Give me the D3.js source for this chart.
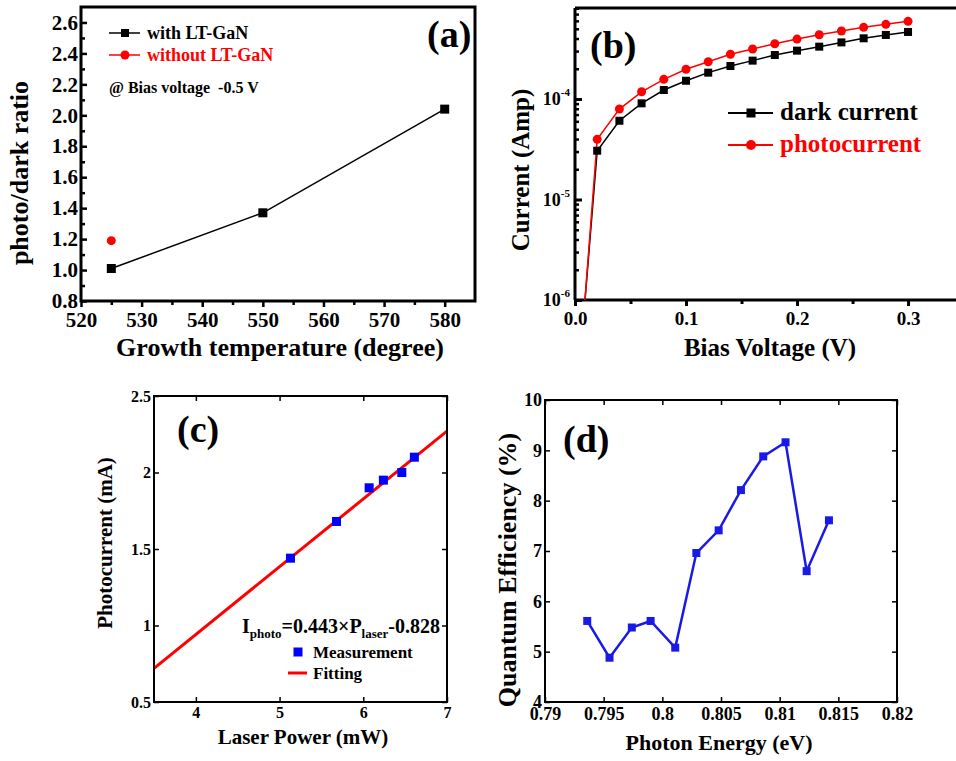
<!DOCTYPE html>
<html>
<head>
<meta charset="utf-8">
<script src="https://cdn.jsdelivr.net/npm/d3@7"></script>
<style>
  body { margin: 0; background: #fff; }
  svg text { font-family: "Liberation Serif", "Times New Roman", serif; font-weight: bold; }
  svg .tick text { font-family: "Liberation Serif", "Times New Roman", serif !important; font-weight: bold !important; }
</style>
</head>
<body>
<div class="chart"></div>
<script>
// ---- data ----

// (a) photo/dark ratio vs growth temperature
var tempWith = [525, 550, 580];
var ratioWith = [1.01, 1.37, 2.04];
var tempWithout = [525];
var ratioWithout = [1.19];
var aTicksX = [520, 530, 540, 550, 560, 570, 580];
var aMinorX = [525, 535, 545, 555, 565, 575];
var aTicksY = [0.8, 1.0, 1.2, 1.4, 1.6, 1.8, 2.0, 2.2, 2.4, 2.6];
var aMinorY = [0.9, 1.1, 1.3, 1.5, 1.7, 1.9, 2.1, 2.3, 2.5];

// (b) I-V curves (log scale)
var biasV = [0.0, 0.02, 0.04, 0.06, 0.08, 0.10, 0.12, 0.14, 0.16, 0.18, 0.20, 0.22, 0.24, 0.26, 0.28, 0.30];
var darkCurrent = [6e-8, 3.06e-5, 6.08e-5, 9.06e-5, 1.23e-4, 1.52e-4, 1.83e-4, 2.13e-4, 2.41e-4, 2.74e-4, 3.03e-4, 3.32e-4, 3.66e-4, 4.02e-4, 4.34e-4, 4.65e-4];
var photoCurrent = [5e-8, 3.97e-5, 7.95e-5, 1.18e-4, 1.57e-4, 1.98e-4, 2.35e-4, 2.79e-4, 3.15e-4, 3.55e-4, 3.95e-4, 4.36e-4, 4.75e-4, 5.17e-4, 5.54e-4, 5.93e-4];
var bTicksX = [0, 0.1, 0.2, 0.3];
var bMinorX = [0.05, 0.15, 0.25];
var bTicksY = [1e-6, 1e-5, 1e-4];
var bExpY = ["-6", "-5", "-4"];

// (c) photocurrent vs laser power
var laserPower = [5.13, 5.68, 6.07, 6.24, 6.46, 6.61];
var measCurrent = [1.44, 1.68, 1.90, 1.95, 2.00, 2.10];
var fitPower = [3.5, 7];
var fitCurrent = [0.72, 2.27];
var cTicksX = [4, 5, 6, 7];
var cTicksY = [0.5, 1, 1.5, 2, 2.5];
var cLabelsY = ["0.5", "1", "1.5", "2", "2.5"];

// (d) quantum efficiency vs photon energy
var photonEnergy = [0.7936, 0.7955, 0.7974, 0.7990, 0.8011, 0.8029, 0.8048, 0.8067, 0.8086, 0.8105, 0.8123, 0.8142];
var quantumEff = [5.61, 4.88, 5.48, 5.61, 5.08, 6.96, 7.41, 8.21, 8.88, 9.16, 6.60, 7.61];
var dTicksX = [0.79, 0.795, 0.8, 0.805, 0.81, 0.815, 0.82];
var dLabelsX = ["0.79", "0.795", "0.8", "0.805", "0.81", "0.815", "0.82"];
var dTicksY = [4, 5, 6, 7, 8, 9, 10];

var serif = "Liberation Serif, Times New Roman, serif";

var svg = d3.select(".chart")
  .append("svg")
  .attr("width", 956)
  .attr("height", 761);

function square(g, x, y, size, color) {
  g.append("rect")
    .attr("x", x - size / 2)
    .attr("y", y - size / 2)
    .attr("width", size)
    .attr("height", size)
    .attr("fill", color);
}

// styles an axis group: no domain path, serif bold labels
function styleAxis(g, fontSize, tickWidth) {
  g.attr("font-family", serif).attr("font-size", fontSize).attr("font-weight", "bold");
  g.select(".domain").remove();
  g.selectAll(".tick line").attr("stroke", "#000").attr("stroke-width", tickWidth);
  g.selectAll(".tick text")
    .attr("fill", "#000")
    .attr("font-family", serif)
    .attr("font-weight", "bold")
    .attr("font-size", fontSize);
}

// =================== (a) ===================
var ax = d3.scaleLinear().domain([520, 585]).range([81, 475]);
var ay = d3.scaleLinear().domain([0.8, 2.7]).range([301, 7]);
var gA = svg.append("g");

var aBottom = gA.append("g").attr("transform", "translate(0,301)")
  .call(d3.axisBottom(ax).tickValues(aTicksX).tickSizeInner(6).tickSizeOuter(0).tickPadding(5).tickFormat(d3.format("d")));
styleAxis(aBottom, 21, 2.5);
var aBottomMinor = gA.append("g").attr("transform", "translate(0,301)")
  .call(d3.axisBottom(ax).tickValues(aMinorX).tickSizeInner(4).tickSizeOuter(0).tickFormat(""));
styleAxis(aBottomMinor, 21, 2.5);

var aLeft = gA.append("g").attr("transform", "translate(81,0)")
  .call(d3.axisLeft(ay).tickValues(aTicksY).tickSizeInner(-6).tickSizeOuter(0).tickPadding(3).tickFormat(d3.format(".1f")));
styleAxis(aLeft, 21, 2.5);
var aLeftMinor = gA.append("g").attr("transform", "translate(81,0)")
  .call(d3.axisLeft(ay).tickValues(aMinorY).tickSizeInner(-4).tickSizeOuter(0).tickFormat(""));
styleAxis(aLeftMinor, 21, 2.5);

gA.append("rect").attr("x", 81).attr("y", 7).attr("width", 394).attr("height", 294)
  .attr("fill", "none").attr("stroke", "#000").attr("stroke-width", 3);

var lineA = d3.line().x(d => ax(d[0])).y(d => ay(d[1]));
var ptsWith = tempWith.map((t, i) => [t, ratioWith[i]]);
gA.append("path").attr("d", lineA(ptsWith)).attr("fill", "none").attr("stroke", "#000").attr("stroke-width", 1.5);
ptsWith.forEach(p => square(gA, ax(p[0]), ay(p[1]), 9, "#000"));
tempWithout.forEach((t, i) => {
  gA.append("circle").attr("cx", ax(t)).attr("cy", ay(ratioWithout[i])).attr("r", 4.5).attr("fill", "#f00");
});

// legend (a)
gA.append("line").attr("x1", 109).attr("x2", 140).attr("y1", 33).attr("y2", 33).attr("stroke", "#000").attr("stroke-width", 1.5);
square(gA, 125, 33, 8, "#000");
gA.append("text").attr("x", 147).attr("y", 39).style("font-size", "18px").text("with LT-GaN");
gA.append("line").attr("x1", 109).attr("x2", 140).attr("y1", 55).attr("y2", 55).attr("stroke", "#f00").attr("stroke-width", 1.5);
gA.append("circle").attr("cx", 125).attr("cy", 55).attr("r", 4.5).attr("fill", "#f00");
gA.append("text").attr("x", 147).attr("y", 61).attr("fill", "#f00").style("font-size", "18px").text("without LT-GaN");
gA.append("text").attr("x", 109).attr("y", 93).style("font-size", "16px").style("white-space", "pre")
  .text("@ Bias voltage  -0.5 V");
gA.append("text").attr("x", 427).attr("y", 47).style("font-size", "38px").text("(a)");

gA.append("text").attr("transform", "translate(28,173) rotate(-90)").attr("text-anchor", "middle")
  .style("font-size", "26px").text("photo/dark ratio");
gA.append("text").attr("x", 280).attr("y", 356).attr("text-anchor", "middle")
  .style("font-size", "26px").text("Growth temperature (degree)");

// =================== (b) ===================
var bx = d3.scaleLinear().domain([0, 0.345]).range([575, 958]);
var by = d3.scaleLog().domain([1e-6, 8.05e-4]).range([300, 8]);
var gB = svg.append("g");

var bBottom = gB.append("g").attr("transform", "translate(0,300)")
  .call(d3.axisBottom(bx).tickValues(bTicksX).tickSizeInner(6).tickSizeOuter(0).tickPadding(6).tickFormat(d3.format(".1f")));
styleAxis(bBottom, 19, 3);
var bBottomMinor = gB.append("g").attr("transform", "translate(0,300)")
  .call(d3.axisBottom(bx).tickValues(bMinorX).tickSizeInner(4).tickSizeOuter(0).tickFormat(""));
styleAxis(bBottomMinor, 19, 3);

var bMinorY = [];
bTicksY.forEach(dec => {
  for (var k = 2; k <= 9; k++) if (dec * k < 8.05e-4) bMinorY.push(dec * k);
});
var bLeft = gB.append("g").attr("transform", "translate(575,0)")
  .call(d3.axisLeft(by).tickValues(bTicksY).tickSizeInner(-7).tickSizeOuter(0).tickFormat(""));
styleAxis(bLeft, 18, 3);
var bLeftMinor = gB.append("g").attr("transform", "translate(575,0)")
  .call(d3.axisLeft(by).tickValues(bMinorY).tickSizeInner(-4).tickSizeOuter(0).tickFormat(""));
styleAxis(bLeftMinor, 18, 2.5);
// 10^n labels
bTicksY.forEach((v, i) => {
  var t = gB.append("text").attr("x", 570).attr("y", by(v) + 6).attr("text-anchor", "end").style("font-size", "18px");
  t.append("tspan").text("10");
  t.append("tspan").attr("dy", -9).style("font-size", "11px").text(bExpY[i]);
});

gB.append("clipPath").attr("id", "clipB").append("rect").attr("x", 575).attr("y", 8).attr("width", 383).attr("height", 292);
gB.append("line").attr("x1", 575).attr("x2", 958).attr("y1", 8).attr("y2", 8).attr("stroke", "#000").attr("stroke-width", 3);
gB.append("line").attr("x1", 575).attr("x2", 575).attr("y1", 8).attr("y2", 300).attr("stroke", "#000").attr("stroke-width", 3);
gB.append("line").attr("x1", 575).attr("x2", 958).attr("y1", 300).attr("y2", 300).attr("stroke", "#000").attr("stroke-width", 3);

var lineB = d3.line().x((d, i) => bx(biasV[i])).y(d => by(d));
var plotB = gB.append("g").attr("clip-path", "url(#clipB)");
plotB.append("path").attr("d", lineB(darkCurrent)).attr("fill", "none").attr("stroke", "#000").attr("stroke-width", 1.5);
plotB.append("path").attr("d", lineB(photoCurrent)).attr("fill", "none").attr("stroke", "#f00").attr("stroke-width", 1.5);
darkCurrent.forEach((v, i) => { if (i > 0) square(plotB, bx(biasV[i]), by(v), 8, "#000"); });
photoCurrent.forEach((v, i) => {
  if (i > 0) plotB.append("circle").attr("cx", bx(biasV[i])).attr("cy", by(v)).attr("r", 4.5).attr("fill", "#f00");
});

// legend (b)
gB.append("line").attr("x1", 728).attr("x2", 773).attr("y1", 113).attr("y2", 113).attr("stroke", "#000").attr("stroke-width", 2);
square(gB, 751, 113, 9, "#000");
gB.append("text").attr("x", 780).attr("y", 120).style("font-size", "25px").text("dark current");
gB.append("line").attr("x1", 728).attr("x2", 773).attr("y1", 145).attr("y2", 145).attr("stroke", "#f00").attr("stroke-width", 2);
gB.append("circle").attr("cx", 751).attr("cy", 145).attr("r", 5).attr("fill", "#f00");
gB.append("text").attr("x", 780).attr("y", 152).attr("fill", "#f00").style("font-size", "25px").text("photocurrent");
gB.append("text").attr("x", 590).attr("y", 58).style("font-size", "38px").text("(b)");

gB.append("text").attr("transform", "translate(529,170) rotate(-90)").attr("text-anchor", "middle")
  .style("font-size", "25px").text("Current (Amp)");
gB.append("text").attr("x", 770).attr("y", 356).attr("text-anchor", "middle")
  .style("font-size", "25px").text("Bias Voltage (V)");

// =================== (c) ===================
var cx = d3.scaleLinear().domain([3.5, 7]).range([154, 447]);
var cy = d3.scaleLinear().domain([0.5, 2.5]).range([702, 396]);
var gC = svg.append("g");

gC.append("clipPath").attr("id", "clipC").append("rect").attr("x", 154).attr("y", 396).attr("width", 293).attr("height", 306);
var lineC = d3.line().x(d => cx(d[0])).y(d => cy(d[1]));
gC.append("path").attr("clip-path", "url(#clipC)")
  .attr("d", lineC(fitPower.map((p, i) => [p, fitCurrent[i]])))
  .attr("fill", "none").attr("stroke", "#f00").attr("stroke-width", 3);
laserPower.forEach((p, i) => square(gC, cx(p), cy(measCurrent[i]), 9, "#00f"));

var cBottom = gC.append("g").attr("transform", "translate(0,702)")
  .call(d3.axisBottom(cx).tickValues(cTicksX).tickSizeInner(-5).tickSizeOuter(0).tickPadding(5).tickFormat(d3.format("d")));
styleAxis(cBottom, 16, 1.5);
var cTop = gC.append("g").attr("transform", "translate(0,396)")
  .call(d3.axisTop(cx).tickValues(cTicksX).tickSizeInner(-5).tickSizeOuter(0).tickFormat(""));
styleAxis(cTop, 16, 1.5);
var cLeft = gC.append("g").attr("transform", "translate(154,0)")
  .call(d3.axisLeft(cy).tickValues(cTicksY).tickSizeInner(-5).tickSizeOuter(0).tickPadding(3).tickFormat((d, i) => cLabelsY[i]));
styleAxis(cLeft, 16, 1.5);
var cRight = gC.append("g").attr("transform", "translate(447,0)")
  .call(d3.axisRight(cy).tickValues(cTicksY).tickSizeInner(-5).tickSizeOuter(0).tickFormat(""));
styleAxis(cRight, 16, 1.5);
gC.append("rect").attr("x", 154).attr("y", 396).attr("width", 293).attr("height", 306)
  .attr("fill", "none").attr("stroke", "#000").attr("stroke-width", 2);

// legend (c)
var eq = gC.append("text").attr("x", 242).attr("y", 633).style("font-size", "20px");
eq.append("tspan").text("I");
eq.append("tspan").attr("dy", 5).style("font-size", "13px").text("photo");
eq.append("tspan").attr("dy", -5).text("=0.443\u00d7P");
eq.append("tspan").attr("dy", 5).style("font-size", "13px").text("laser");
eq.append("tspan").attr("dy", -5).text("-0.828");
square(gC, 298, 652, 9, "#00f");
gC.append("text").attr("x", 313).attr("y", 658).style("font-size", "17px").text("Measurement");
gC.append("line").attr("x1", 288).attr("x2", 307).attr("y1", 673).attr("y2", 673).attr("stroke", "#f00").attr("stroke-width", 3);
gC.append("text").attr("x", 313).attr("y", 679).style("font-size", "17px").text("Fitting");
gC.append("text").attr("x", 177).attr("y", 442).style("font-size", "38px").text("(c)");

gC.append("text").attr("transform", "translate(112,543) rotate(-90)").attr("text-anchor", "middle")
  .style("font-size", "21px").text("Photocurrent (mA)");
gC.append("text").attr("x", 303).attr("y", 744).attr("text-anchor", "middle")
  .style("font-size", "21px").text("Laser Power (mW)");

// =================== (d) ===================
var dx = d3.scaleLinear().domain([0.79, 0.82]).range([545, 897]);
var dy = d3.scaleLinear().domain([4, 10]).range([702, 400]);
var gD = svg.append("g");

var dBottom = gD.append("g").attr("transform", "translate(0,702)")
  .call(d3.axisBottom(dx).tickValues(dTicksX).tickSizeInner(-5).tickSizeOuter(0).tickPadding(5).tickFormat((d, i) => dLabelsX[i]));
styleAxis(dBottom, 18, 1.5);
var dTop = gD.append("g").attr("transform", "translate(0,400)")
  .call(d3.axisTop(dx).tickValues(dTicksX).tickSizeInner(-5).tickSizeOuter(0).tickFormat(""));
styleAxis(dTop, 18, 1.5);
var dLeft = gD.append("g").attr("transform", "translate(545,0)")
  .call(d3.axisLeft(dy).tickValues(dTicksY).tickSizeInner(-5).tickSizeOuter(0).tickPadding(3).tickFormat(d3.format("d")));
styleAxis(dLeft, 18, 1.5);
var dRight = gD.append("g").attr("transform", "translate(897,0)")
  .call(d3.axisRight(dy).tickValues(dTicksY).tickSizeInner(-5).tickSizeOuter(0).tickFormat(""));
styleAxis(dRight, 18, 1.5);
gD.append("rect").attr("x", 545).attr("y", 400).attr("width", 352).attr("height", 302)
  .attr("fill", "none").attr("stroke", "#000").attr("stroke-width", 2);

var lineD = d3.line().x((d, i) => dx(photonEnergy[i])).y(d => dy(d));
gD.append("path").attr("d", lineD(quantumEff)).attr("fill", "none").attr("stroke", "#1a1ae8").attr("stroke-width", 2.5);
quantumEff.forEach((q, i) => square(gD, dx(photonEnergy[i]), dy(q), 8, "#1a1ae8"));

gD.append("text").attr("x", 563).attr("y", 452).style("font-size", "38px").text("(d)");
gD.append("text").attr("transform", "translate(516,570) rotate(-90)").attr("text-anchor", "middle")
  .style("font-size", "26px").text("Quantum Efficiency (%)");
gD.append("text").attr("x", 719).attr("y", 750).attr("text-anchor", "middle")
  .style("font-size", "22px").text("Photon Energy (eV)");
</script>
</body>
</html>
